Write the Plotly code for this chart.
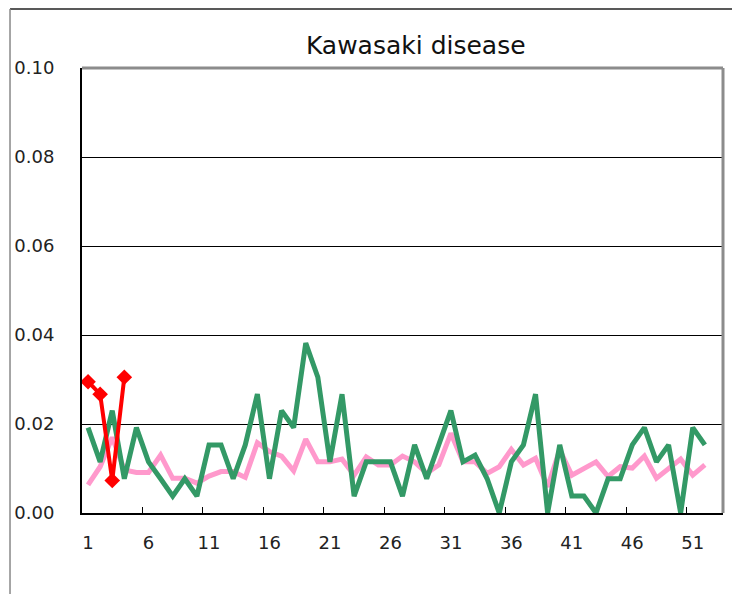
import plotly.graph_objects as go

weeks = list(range(1, 54))
tick_label_weeks = [1, 6, 11, 16, 21, 26, 31, 36, 41, 46, 51]
tick_mark_positions = [5.5, 10.5, 15.5, 20.5, 25.5, 30.5, 35.5, 40.5, 45.5, 50.5]
y_ticks = [0.00, 0.02, 0.04, 0.06, 0.08, 0.10]
y_tick_text = ["0.00", "0.02", "0.04", "0.06", "0.08", "0.10"]

pink_avg = [0.0063, 0.0104, 0.0170, 0.0097, 0.0091, 0.0091, 0.0130, 0.0078, 0.0078, 0.0067,
            0.0083, 0.0093, 0.0093, 0.0080, 0.0158, 0.0138, 0.0128, 0.0095, 0.0166, 0.0115,
            0.0115, 0.0121, 0.0085, 0.0126, 0.0108, 0.0108, 0.0128, 0.0115, 0.0089, 0.0108,
            0.0179, 0.0115, 0.0115, 0.0089, 0.0104, 0.0143, 0.0108, 0.0123, 0.0059, 0.0142,
            0.0085, 0.0100, 0.0115, 0.0082, 0.0104, 0.0101, 0.0128, 0.0078, 0.0101, 0.0121,
            0.0085, 0.0108]

green_prev = [0.0192, 0.0115, 0.0230, 0.0077, 0.0192, 0.0115, 0.0077, 0.0038, 0.0077, 0.0038,
              0.0153, 0.0153, 0.0077, 0.0153, 0.0267, 0.0077, 0.0230, 0.0192, 0.0382, 0.0305,
              0.0115, 0.0267, 0.0038, 0.0115, 0.0115, 0.0115, 0.0038, 0.0153, 0.0077, 0.0153,
              0.0230, 0.0115, 0.0130, 0.0077, 0.0000, 0.0115, 0.0153, 0.0267, 0.0000, 0.0153,
              0.0038, 0.0038, 0.0000, 0.0077, 0.0077, 0.0153, 0.0192, 0.0115, 0.0153, 0.0000,
              0.0192, 0.0153]

red_current = [0.0295, 0.0267, 0.0073, 0.0305]

FONT = "DejaVu Sans"

fig = go.Figure()
fig.add_trace(go.Scatter(x=weeks[:len(pink_avg)], y=pink_avg, mode="lines",
                         line=dict(color="#FF99CC", width=5), xaxis="x", yaxis="y",
                         showlegend=False, hoverinfo="skip"))
fig.add_trace(go.Scatter(x=weeks[:len(green_prev)], y=green_prev, mode="lines",
                         line=dict(color="#339966", width=5), xaxis="x", yaxis="y",
                         showlegend=False, hoverinfo="skip"))
fig.add_trace(go.Scatter(x=weeks[:len(red_current)], y=red_current, mode="lines+markers",
                         line=dict(color="#FF0000", width=4),
                         marker=dict(symbol="diamond", size=12, color="#FF0000"),
                         xaxis="x", yaxis="y", showlegend=False, hoverinfo="skip"))
# invisible trace to activate second x axis (tick marks between categories)
fig.add_trace(go.Scatter(x=[weeks[0]], y=[None], xaxis="x2", yaxis="y",
                         showlegend=False, hoverinfo="skip"))

fig.update_layout(
    width=740, height=594,
    margin=dict(l=74, r=25, t=60, b=89, autoexpand=False),
    paper_bgcolor="white", plot_bgcolor="white",
    font=dict(family=FONT, color="#222222"),
    title=dict(text="Kawasaki disease", x=0.551, xanchor="center", y=0.937, yanchor="middle",
               font=dict(size=25, family=FONT, color="#111111")),
    xaxis=dict(range=[0.5, 53.5], tickmode="array", tickvals=tick_label_weeks,
               ticktext=[str(v) for v in tick_label_weeks], ticks="", showgrid=False,
               zeroline=False, showline=True, linecolor="black", linewidth=2,
               tickfont=dict(size=18, family=FONT), ticklabelstandoff=12, automargin=False),
    xaxis2=dict(range=[0.5, 53.5], overlaying="x", side="bottom", tickmode="array",
                tickvals=tick_mark_positions, ticks="inside", ticklen=6, tickwidth=1,
                tickcolor="black", showticklabels=False, showgrid=False, zeroline=False,
                showline=False, automargin=False),
    yaxis=dict(range=[0, 0.10], tickmode="array", tickvals=y_ticks, ticktext=y_tick_text,
               showgrid=True, gridcolor="black", gridwidth=1, zeroline=False,
               showline=True, linecolor="black", linewidth=2, ticks="",
               tickfont=dict(size=18, family=FONT), ticklabelstandoff=22, automargin=False),
    shapes=[
        dict(type="line", xref="paper", yref="paper", x0=0, x1=1, y0=1, y1=1,
             line=dict(color="#8c8c8c", width=3)),
        dict(type="line", xref="paper", yref="paper", x0=1, x1=1, y0=0, y1=1,
             line=dict(color="#8c8c8c", width=3)),
        dict(type="line", xref="paper", yref="paper", x0=-0.1123, x1=1.05, y0=1.1326, y1=1.1326,
             line=dict(color="#222222", width=1.5)),
        dict(type="line", xref="paper", yref="paper", x0=-0.1123, x1=-0.1123, y0=1.1326, y1=-0.21,
             line=dict(color="#888888", width=1.5)),
    ],
)

fig.write_html("out.html")
